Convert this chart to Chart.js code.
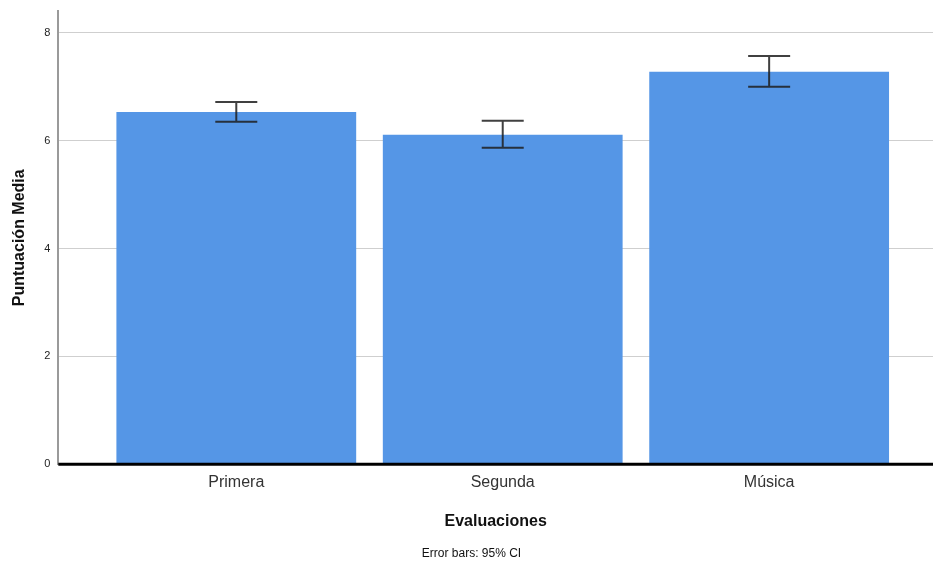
<!DOCTYPE html>
<html>
<head>
<meta charset="utf-8">
<script src="https://cdn.jsdelivr.net/npm/chart.js@4/dist/chart.umd.min.js"></script>
<style>
html,body{margin:0;padding:0;background:#fff;}
#wrap{width:934px;height:565px;position:relative;}
</style>
</head>
<body>
<div id="wrap"><canvas id="c" width="934" height="565"></canvas></div>
<script>
const categories = ["Primera", "Segunda", "Música"];
const means = [6.53, 6.11, 7.28];
const ciLow = [6.35, 5.87, 7.00];
const ciHigh = [6.72, 6.37, 7.57];
const yTicks = [0, 2, 4, 6, 8];

const positions = categories.map((_, i) => i + 1);

const errorBarPlugin = {
  id: 'errorBars',
  afterDatasetsDraw(chart) {
    const ctx = chart.ctx;
    const xs = chart.scales.x, ys = chart.scales.y;
    const area = chart.chartArea;
    ctx.save();
    ctx.strokeStyle = '#000';
    ctx.lineWidth = 3;
    ctx.beginPath();
    const y0 = ys.getPixelForValue(0);
    ctx.moveTo(area.left, y0);
    ctx.lineTo(area.right, y0);
    ctx.stroke();
    ctx.strokeStyle = 'rgba(30,30,30,0.85)';
    ctx.lineWidth = 2;
    const cap = 21;
    positions.forEach((p, i) => {
      const x = xs.getPixelForValue(p);
      const yl = ys.getPixelForValue(ciLow[i]);
      const yh = ys.getPixelForValue(ciHigh[i]);
      ctx.beginPath();
      ctx.moveTo(x, yl); ctx.lineTo(x, yh);
      ctx.moveTo(x - cap, yl); ctx.lineTo(x + cap, yl);
      ctx.moveTo(x - cap, yh); ctx.lineTo(x + cap, yh);
      ctx.stroke();
    });
    ctx.restore();
  }
};

new Chart(document.getElementById('c'), {
  type: 'bar',
  data: {
    datasets: [{
      data: positions.map((p, i) => ({x: p, y: means[i]})),
      backgroundColor: '#5596e6',
      borderWidth: 0,
      barPercentage: 0.9,
      categoryPercentage: 1.0
    }]
  },
  options: {
    responsive: false,
    animation: false,
    devicePixelRatio: 1,
    layout: {padding: {left: 10, right: 1, top: 0, bottom: 4}},
    plugins: {
      legend: {display: false},
      tooltip: {enabled: false},
      title: {
        display: true,
        position: 'bottom',
        text: 'Error bars: 95% CI',
        color: '#111',
        font: {family: 'Liberation Sans, Arial, sans-serif', size: 12, weight: 'normal'},
        padding: {top: 6, bottom: 0}
      }
    },
    scales: {
      x: {
        type: 'linear',
        offset: false,
        min: 0.332,
        max: 3.615,
        afterBuildTicks(scale) { scale.ticks = positions.map(v => ({value: v})); },
        ticks: {
          callback: (v) => categories[Math.round(v) - 1] || '',
          color: '#333',
          font: {family: 'Liberation Sans, Arial, sans-serif', size: 16},
          padding: 9,
          autoSkip: false,
          maxRotation: 0
        },
        grid: {display: false, drawTicks: false},
        border: {display: false},
        title: {
          display: true,
          text: 'Evaluaciones',
          color: '#111',
          font: {family: 'Liberation Sans, Arial, sans-serif', size: 16, weight: 'bold'},
          padding: {top: 11, bottom: 9}
        }
      },
      y: {
        min: 0,
        max: 8.4,
        afterBuildTicks(scale) { scale.ticks = yTicks.map(v => ({value: v})); },
        ticks: {
          color: '#222',
          font: {family: 'Liberation Sans, Arial, sans-serif', size: 11, lineHeight: 0.6},
          padding: 8
        },
        grid: {color: '#cfcfcf', lineWidth: 1, drawTicks: false},
        border: {display: true, color: '#9a9a9a', width: 2},
        title: {
          display: true,
          text: 'Puntuación Media',
          color: '#111',
          font: {family: 'Liberation Sans, Arial, sans-serif', size: 16, weight: 'bold'},
          padding: {top: 0, bottom: 7}
        }
      }
    }
  },
  plugins: [errorBarPlugin]
});
</script>
</body>
</html>
